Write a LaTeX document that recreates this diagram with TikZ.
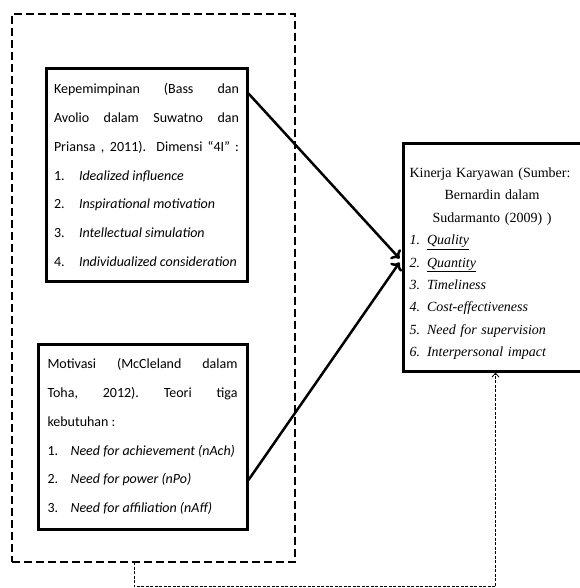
\documentclass[tikz,border=0pt]{standalone}
\usepackage{fontspec}
\setmainfont{Carlito}
\newfontfamily\timesf{Liberation Serif}
\usetikzlibrary{arrows.meta,calc}
\setlength\parindent{0pt}
\newcommand\liA[2]{\par\makebox[25pt][l]{#1}\makebox[0pt][l]{\textit{#2}}}
\newcommand\liB[2]{\par\makebox[23pt][l]{#1}\makebox[0pt][l]{\textit{#2}}}
\begin{document}
\begin{tikzpicture}[x=1pt,y=-1pt,
  box/.style={draw,line width=3pt,inner ysep=2pt},
  grpbox/.style={draw,line width=2.5pt,dash pattern=on 8pt off 4pt,inner sep=0pt},
  mainarrow/.style={line width=2.5pt,-{To[length=7pt,width=14pt]}},
  fbline/.style={line width=0.8pt,dash pattern=on 3pt off 1.5pt,-{Straight Barb[length=4pt,width=7pt]}},
  sansfont/.style={font=\fontsize{14}{28.7}\selectfont},
  seriffont/.style={font=\timesf\fontsize{14}{22.4}\selectfont}]
\useasboundingbox (0,0) rectangle (579,588);

% dashed group
\node[grpbox,minimum width=283pt,minimum height=548pt] (grp) at (153.5,288) {};

% box 1
\node[box,sansfont,text width=185pt,inner xsep=8pt,minimum width=201pt,minimum height=212pt,align=justify] (lead) at (146.5,175)
{\makebox[185pt]{Kepemimpinan\hfill(Bass\hfill dan}\par
\makebox[185pt]{Avolio\hfill dalam\hfill Suwatno\hfill dan}\par
\makebox[185pt][s]{Priansa , 2011). Dimensi “4I” :}%
\liA{1.}{Idealized influence}%
\liA{2.}{Inspirational motivation}%
\liA{3.}{Intellectual simulation}%
\liA{4.}{Individualized consideration}};

% box 2
\node[box,sansfont,text width=190pt,inner xsep=9.5pt,minimum width=209pt,minimum height=185pt,align=justify] (moti) at (142.5,436.5)
{\makebox[190pt]{Motivasi\hfill(McCleland\hfill dalam}\par
\makebox[190pt]{Toha,\hfill 2012).\hfill Teori\hfill tiga}\par
kebutuhan :%
\liB{1.}{Need for achievement (nAch)}%
\liB{2.}{Need for power (nPo)}%
\liB{3.}{Need for affiliation (nAff)}};

% right box
\node[box,seriffont,text width=165pt,inner xsep=6.5pt,minimum width=178pt,minimum height=227pt,align=left] (out) at (492,257.5)
{\rule{0pt}{22pt}Kinerja Karyawan (Sumber:\par
\makebox[165pt]{Bernardin dalam}\par
\makebox[165pt]{Sudarmanto (2009) )}\par
\textit{1. \underline{Quality}}\par
\textit{2. \underline{Quantity}}\par
\textit{3. Timeliness}\par
\textit{4. Cost-effectiveness}\par
\textit{5. Need for supervision}\par
\textit{6. Interpersonal impact}};

% arrows
\draw[mainarrow] ([yshift=-26pt]lead.north east) -- ([xshift=-2pt,yshift=-1pt]out.west);
\draw[mainarrow] ([yshift=-43.5pt]moti.east) -- ([xshift=-2pt,yshift=-5pt]out.west);

% feedback
\coordinate (fb) at (134,562);
\draw[fbline] (fb) -- ++(0,24.5) -| ([xshift=3.5pt]out.south);
\end{tikzpicture}
\end{document}
